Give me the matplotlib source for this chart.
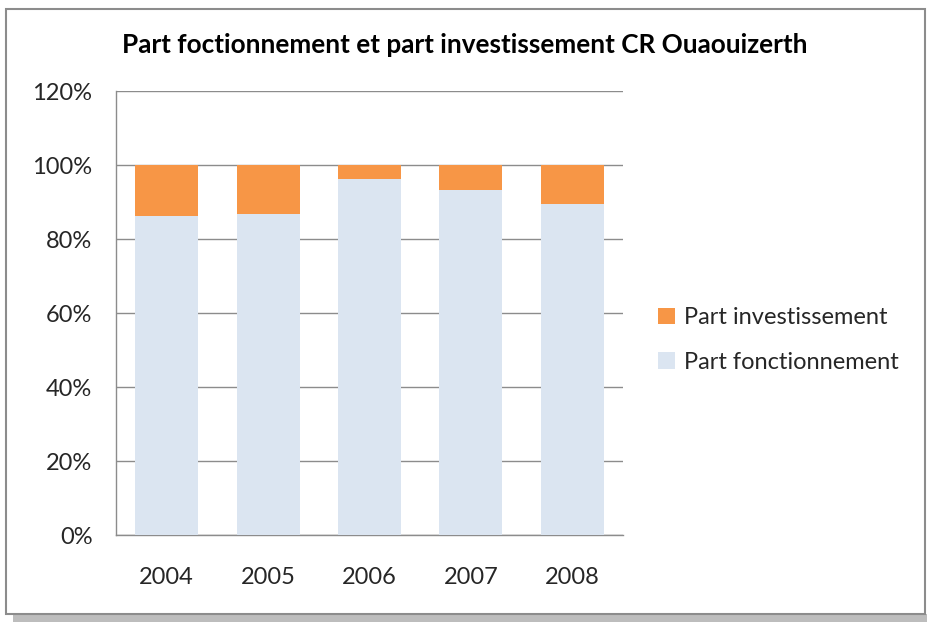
import matplotlib
matplotlib.use("Agg")
import matplotlib.pyplot as plt
from matplotlib.patches import Rectangle
import numpy as np

# data (share of total, in %)
years = ["2004", "2005", "2006", "2007", "2008"]
part_fonctionnement = [86.3, 86.7, 96.2, 93.3, 89.5]
part_investissement = [100 - v for v in part_fonctionnement]

title = "Part foctionnement et part investissement CR Ouaouizerth"
yticks = [0, 20, 40, 60, 80, 100, 120]

ORANGE = "#F79646"
LIGHTBLUE = "#DBE5F1"
GRID = "#8C8C8C"
TXT = "#262626"

plt.rcParams["font.family"] = ["Lato", "DejaVu Sans"]

W, H = 927, 622
fig = plt.figure(figsize=(W / 100, H / 100), dpi=100)

# outer chart frame with drop shadow
fig.patches.append(Rectangle((13 / W, 0), 914 / W, 8 / H, transform=fig.transFigure,
                             facecolor="#BDBDBD", edgecolor="none", zorder=0))
fig.patches.append(Rectangle((6 / W, 8 / H), 919 / W, 605 / H, transform=fig.transFigure,
                             facecolor="white", edgecolor="#8C8C8C", linewidth=1.5, zorder=1))

ax = fig.add_axes([116 / W, (H - 535) / H, 507 / W, 444 / H])
ax.set_zorder(2)
ax.patch.set_alpha(0)

x = np.arange(len(years))
ax.bar(x, part_fonctionnement, width=0.62, color=LIGHTBLUE, label="Part fonctionnement", zorder=3)
ax.bar(x, part_investissement, width=0.62, bottom=part_fonctionnement, color=ORANGE,
       label="Part investissement", zorder=3)

ax.set_xlim(-0.5, len(years) - 0.5)
ax.set_ylim(0, 120)
ax.set_yticks(yticks)
ax.set_yticklabels([f"{v}%" for v in yticks])
ax.set_xticks(x)
ax.set_xticklabels(years)
ax.yaxis.grid(True, color=GRID, linewidth=1)
ax.set_axisbelow(True)
for s in ["top", "right"]:
    ax.spines[s].set_visible(False)
for s in ["left", "bottom"]:
    ax.spines[s].set_color(GRID)
    ax.spines[s].set_linewidth(1)
ax.tick_params(axis="both", length=0, labelsize=17, colors=TXT)
ax.tick_params(axis="y", pad=17)
ax.tick_params(axis="x", pad=23)

fig.text(465 / W, 1 - 45 / H, title, ha="center", va="center", fontsize=18.8,
         fontweight="bold", color="black")

handles, labels = ax.get_legend_handles_labels()
fig.legend(handles[::-1], labels[::-1], loc="center left",
           bbox_to_anchor=(637 / W, 1 - 340 / H), frameon=False, fontsize=17,
           handlelength=0.7, handleheight=0.7, handletextpad=0.4, labelspacing=1.0,
           labelcolor=TXT)

fig.savefig("out.png", dpi=100)
